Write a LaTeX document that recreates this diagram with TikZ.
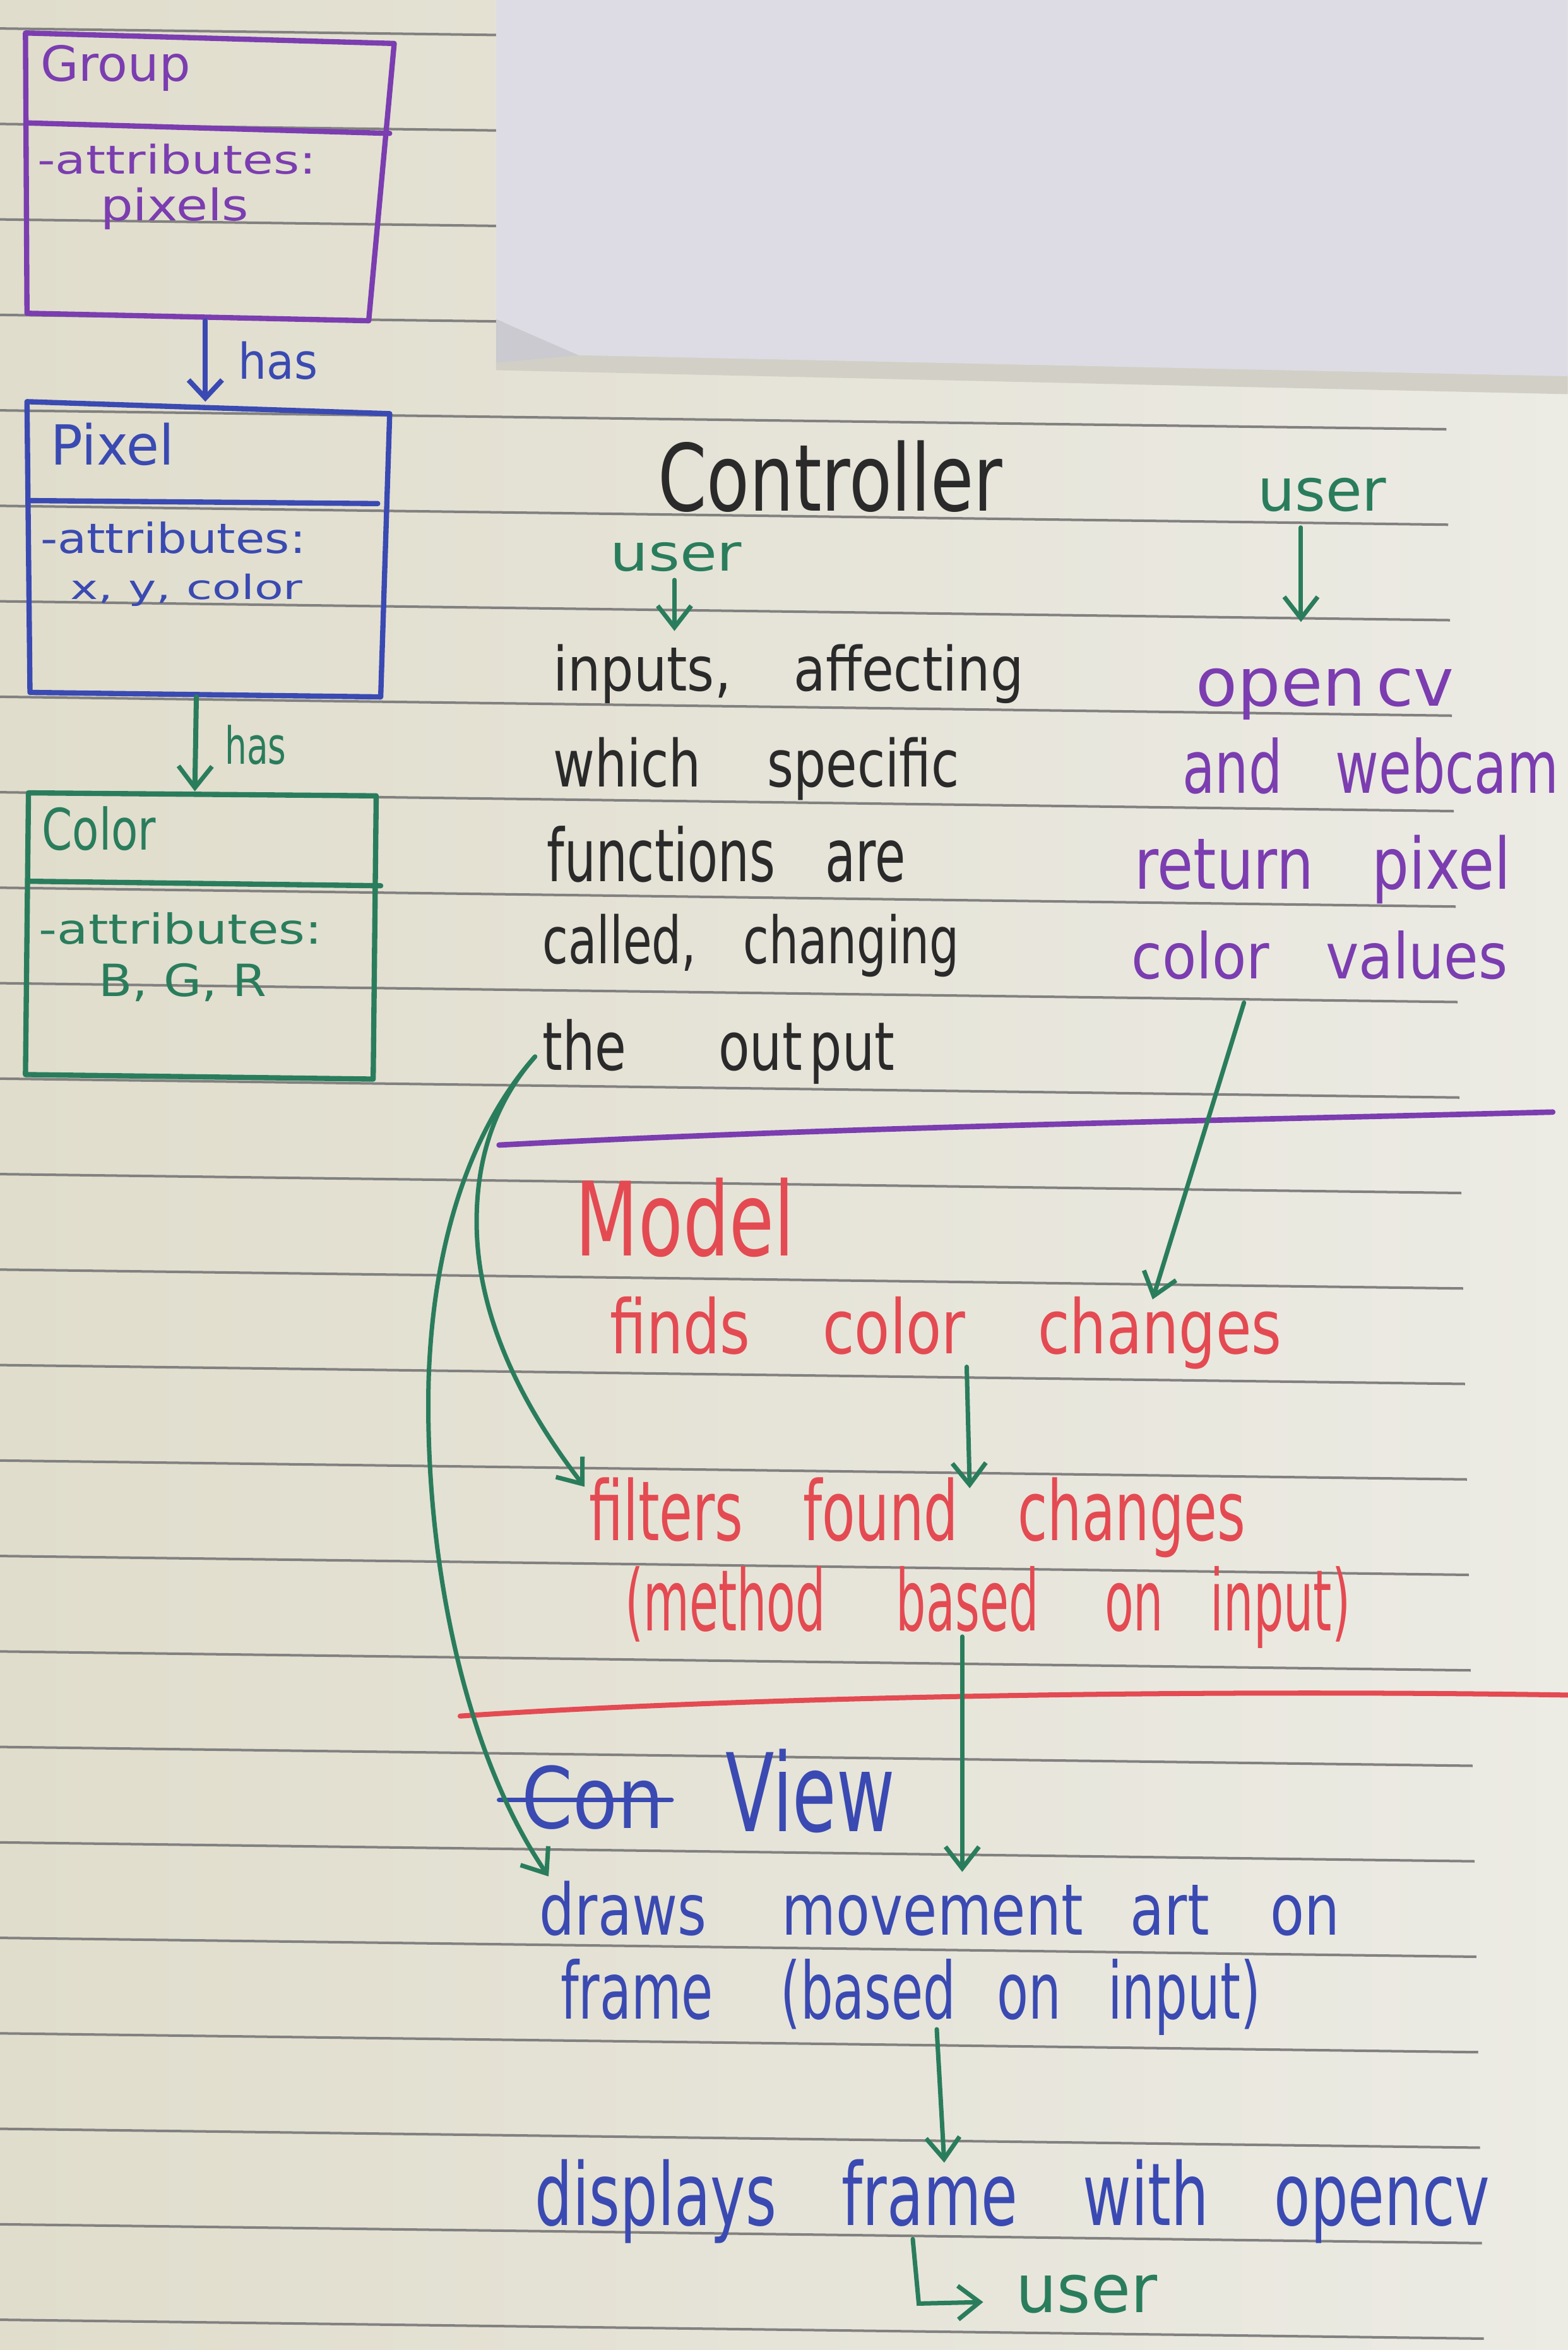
\documentclass[tikz,border=0pt]{standalone}
\usepackage{fontspec}
\setmainfont{DejaVu Sans}
\usepackage{graphicx}
\usetikzlibrary{arrows.meta}
\newlength\un \setlength\un{0.025cm}
\newcommand\hw[3]{\resizebox{#1\un}{#2\un}{#3}}
\definecolor{paperL}{HTML}{E0DDCC}
\definecolor{paperR}{HTML}{ECEBE4}
\definecolor{rulec}{HTML}{828180}
\definecolor{sheetc}{HTML}{DDDCE4}
\definecolor{foldc}{HTML}{CACAD0}
\definecolor{shadc}{HTML}{D2D0C6}
\definecolor{purp}{HTML}{7B3DB0}
\definecolor{blu}{HTML}{3A4AB2}
\definecolor{grn}{HTML}{2A7D5C}
\definecolor{redc}{HTML}{E44A52}
\definecolor{ink}{HTML}{2B2A2A}
\tikzset{
  tx/.style={anchor=base west, inner sep=0pt, outer sep=0pt},
  rule/.style={draw=rulec, line width=1.2pt},
  boxpen/.style={line width=2.5pt, line join=round, line cap=round},
  pen/.style={line width=2.2pt, line cap=round},
  garr/.style={draw=grn, line width=2.1pt, line cap=round,
    -{Straight Barb[length=0.36cm,width=0.56cm,line width=2.1pt]}},
  barr/.style={draw=blu, line width=2.4pt, line cap=round,
    -{Straight Barb[length=0.3cm,width=0.56cm,line width=2.4pt]}}
}
\begin{document}
\begin{tikzpicture}[x=0.025cm,y=-0.025cm]
\useasboundingbox (0,0) rectangle (1046,1568);
% paper
\shade[left color=paperL, right color=paperR] (0,0) rectangle (1046,1568);
% ruled lines
\foreach \k in {0,...,24}{
  \draw[rule] (0,{19+63.7*\k}) -- ({960+1.25*\k},{19+63.7*\k+12.6});
}
% loose sheet at top right
\fill[shadc] (331,240) -- (386,236) -- (1046,250) -- (1046,263) -- (331,247) -- cycle;
\fill[sheetc] (331,0) -- (1046,0) -- (1046,251) -- (386,237) -- (331,213) -- cycle;
\fill[foldc] (331,213) -- (386,237) -- (331,242) -- cycle;

% ---------- class boxes ----------
% Group
\draw[purp, boxpen] (17,22) -- (263,29) -- (246,214) -- (18,209) -- cycle;
\draw[purp, boxpen] (18,82) -- (260,89);
\node[tx,text=purp] (grp)  at (27,54)  {\hw{100}{24}{Group}};
\node[tx,text=purp] (grpA) at (25,116) {\hw{186}{20}{-attributes:}};
\node[tx,text=purp] (grpB) at (67,147) {\hw{99}{22}{pixels}};
% Pixel
\draw[blu, boxpen] (18,268) -- (260,276) -- (254,465) -- (20,462) -- cycle;
\draw[blu, boxpen] (20,334) -- (252,336);
\node[tx,text=blu] (pix)  at (34,310) {\hw{82}{28}{Pixel}};
\node[tx,text=blu] (pixA) at (27,369) {\hw{177}{21}{-attributes:}};
\node[tx,text=blu] (pixB) at (47,400) {\hw{155}{17}{x, y, color}};
% Color
\draw[grn, boxpen] (19,529) -- (251,531) -- (249,720) -- (17,717) -- cycle;
\draw[grn, boxpen] (20,588) -- (254,591);
\node[tx,text=grn] (col)  at (28,567) {\hw{76}{29}{Color}};
\node[tx,text=grn] (colA) at (26,630) {\hw{189}{21}{-attributes:}};
\node[tx,text=grn] (colB) at (66,665) {\hw{112}{22}{B, G, R}};
% has arrows
\coordinate (gb) at (137,214);
\coordinate (pt) at (137,268);
\coordinate (pb) at (131,465);
\coordinate (ct) at (130,528);
\draw[barr] (gb) -- (pt);
\draw[garr, line width=2.4pt] (pb) -- (ct);
\node[tx,text=blu] (has1) at (159,253) {\hw{53}{25}{has}};
\node[tx,text=grn] (has2) at (150,510) {\hw{41}{26}{has}};

% ---------- Controller ----------
\node[tx,text=ink] (ctrl)  at (439,341) {\hw{230}{47}{Controller}};
\node[tx,text=grn] (userR) at (839,341) {\hw{86}{22}{user}};
\node[tx,text=grn] (userL) at (407,381) {\hw{88}{19}{user}};
\node[tx,text=ink] (c1) at (369,461) {\hw{314}{31}{inputs,\hspace{1.2em}affecting}};
\node[tx,text=ink] (c2) at (369,525) {\hw{271}{33}{which\hspace{1.3em}specific}};
\node[tx,text=ink] (c3) at (365,588) {\hw{239}{37}{functions\hspace{1em}are}};
\node[tx,text=ink] (c4) at (362,643) {\hw{278}{33}{called,\hspace{1em}changing}};
\node[tx,text=ink] (c5) at (362,714) {\hw{235}{34}{the\hspace{1.8em}out\hspace{0.15em}put}};
\node[tx,text=purp] (r1) at (798,471) {\hw{172}{25}{open\hspace{0.15em}cv}};
\node[tx,text=purp] (r2) at (789,529) {\hw{251}{37}{and\hspace{1em}webcam}};
\node[tx,text=purp] (r3) at (757,593) {\hw{251}{36}{return\hspace{1em}pixel}};
\node[tx,text=purp] (r4) at (755,653) {\hw{251}{32}{color\hspace{1em}values}};
\coordinate (uR1) at (868,352);
\coordinate (uR2) at (868,415);
\coordinate (uL1) at (450,387);
\coordinate (uL2) at (450,421);
\draw[garr] (uR1) -- (uR2);
\draw[garr] (uL1) -- (uL2);
% separator
\draw[purp, line width=2.6pt, line cap=round] (333,764) .. controls (560,752) and (800,748) .. (1036,742);

% ---------- Model ----------
\node[tx,text=redc] (mdl) at (384,838) {\hw{146}{52}{Model}};
\node[tx,text=redc] (m1) at (407,903) {\hw{448}{38}{finds\hspace{1.25em}color\hspace{1.25em}changes}};
\node[tx,text=redc] (m2) at (393,1028) {\hw{438}{42}{filters\hspace{1.1em}found\hspace{1.1em}changes}};
\node[tx,text=redc] (m3) at (417,1088) {\hw{484}{43}{(method\hspace{1.5em}based\hspace{1.4em}on\hspace{1em}input)}};
\draw[redc, line width=2.4pt, line cap=round] (307,1145) .. controls (500,1132) and (800,1127) .. (1046,1131);

% ---------- View ----------
\node[tx,text=blu] (con)  at (348,1220) {\hw{95}{42}{Con}};
\draw[blu, pen] (333,1201) -- (448,1201);
\node[tx,text=blu] (view) at (484,1222) {\hw{113}{55}{View}};
\node[tx,text=blu] (v1) at (360,1291) {\hw{534}{36}{draws\hspace{1.35em}movement\hspace{0.85em}art\hspace{1.1em}on}};
\node[tx,text=blu] (v2) at (374,1347) {\hw{467}{40}{frame\hspace{1.3em}(based\hspace{0.8em}on\hspace{0.9em}input)}};
\node[tx,text=blu] (v3) at (357,1485) {\hw{637}{44}{displays\hspace{1.1em}frame\hspace{1.1em}with\hspace{1.1em}opencv}};
\node[tx,text=grn] (userB) at (678,1543) {\hw{94}{25}{user}};

% ---------- green flow arrows ----------
\coordinate (cs) at (357,705);
\coordinate (am) at (318,815);
\coordinate (ta) at (390,992);
\coordinate (bm) at (286,920);
\coordinate (tb) at (366,1252);
\draw[garr] (cs) .. controls (335,730) and (318,765) .. (am)
                 .. controls (318,880) and (350,940) .. (ta);
\draw[garr] (cs) .. controls (330,735) and (290,800) .. (bm)
                 .. controls (283,1040) and (310,1170) .. (tb);
\coordinate (cv1) at (830,669);
\coordinate (cv2) at (769,867);
\draw[garr] (cv1) -- (cv2);
\coordinate (f1) at (645,912);
\coordinate (f2) at (647,993);
\draw[garr] (f1) -- (f2);
\coordinate (d1) at (642,1092);
\coordinate (d2) at (642,1249);
\draw[garr] (d1) -- (d2);
\coordinate (e1) at (625,1354);
\coordinate (e2) at (630,1443);
\draw[garr] (e1) -- (e2);
\coordinate (l1) at (609,1494);
\coordinate (l2) at (613,1537);
\coordinate (l3) at (656,1536);
\draw[garr] (l1) -- (l2) -- (l3);
\end{tikzpicture}
\end{document}
